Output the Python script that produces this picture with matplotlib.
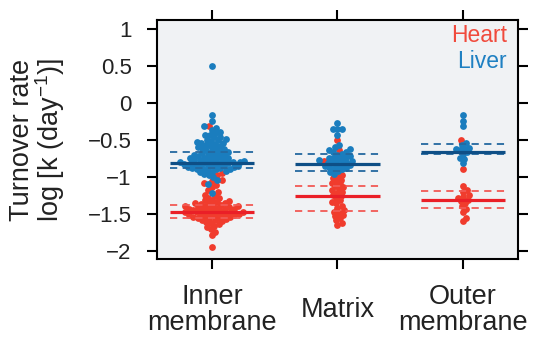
import numpy as np
import matplotlib
matplotlib.use('Agg')  # no display here
import matplotlib.pyplot as plt

plt.rcParams['font.family'] = ['Liberation Sans', 'DejaVu Sans']
plt.rcParams['mathtext.fontset'] = 'custom'
plt.rcParams['mathtext.rm'] = 'Liberation Sans'

# compartments along x
categories = ['Inner\nmembrane', 'Matrix', 'Outer\nmembrane']

# log10 turnover rates, one value per protein
inner_heart = [-0.32, -0.95, -0.97, -1.04, -1.06, -1.08, -1.11, -1.14, -1.18, -1.21,
               -1.24, -1.26, -1.28, -1.29, -1.31, -1.32, -1.33, -1.34, -1.35, -1.36,
               -1.36, -1.37, -1.38, -1.38, -1.39, -1.40, -1.40, -1.41, -1.41, -1.42,
               -1.42, -1.43, -1.43, -1.44, -1.44, -1.45, -1.45, -1.46, -1.46, -1.47,
               -1.47, -1.48, -1.48, -1.49, -1.49, -1.50, -1.50, -1.51, -1.51, -1.52,
               -1.52, -1.53, -1.53, -1.54, -1.54, -1.55, -1.56, -1.56, -1.57, -1.58,
               -1.59, -1.60, -1.61, -1.62, -1.64, -1.66, -1.68, -1.71, -1.74, -1.78,
               -1.95]
inner_liver = [0.49, -0.16, -0.25, -0.31, -0.34, -0.37, -0.39, -0.41, -0.43, -0.44,
               -0.46, -0.47, -0.49, -0.50, -0.51, -0.52, -0.53, -0.54, -0.55, -0.56,
               -0.57, -0.58, -0.59, -0.60, -0.61, -0.62, -0.63, -0.64, -0.65, -0.66,
               -0.67, -0.68, -0.69, -0.70, -0.70, -0.71, -0.72, -0.72, -0.73, -0.74,
               -0.75, -0.75, -0.76, -0.77, -0.77, -0.78, -0.78, -0.79, -0.79, -0.80,
               -0.80, -0.80, -0.81, -0.81, -0.82, -0.82, -0.83, -0.83, -0.83, -0.84,
               -0.85, -0.85, -0.86, -0.86, -0.87, -0.87, -0.88, -0.88, -0.89, -0.89,
               -0.90, -0.90, -0.91, -0.92, -0.93, -0.94, -0.96, -0.98, -1.00, -1.05,
               -1.10, -1.22]
matrix_heart = [-0.50, -0.64, -0.79, -0.97, -1.00, -1.02, -1.04, -1.06, -1.08, -1.10,
                -1.12, -1.14, -1.16, -1.18, -1.20, -1.22, -1.24, -1.26, -1.29, -1.32,
                -1.34, -1.36, -1.39, -1.42, -1.45, -1.47, -1.49, -1.51, -1.53, -1.56,
                -1.59, -1.62, -1.65]
matrix_liver = [-0.27, -0.35, -0.35, -0.35, -0.43, -0.57, -0.60, -0.62, -0.64, -0.66,
                -0.67, -0.69, -0.70, -0.72, -0.73, -0.74, -0.75, -0.76, -0.77, -0.78,
                -0.79, -0.80, -0.81, -0.82, -0.83, -0.84, -0.85, -0.86, -0.87, -0.88,
                -0.89, -0.90, -0.92, -0.94, -0.96]
outer_heart = [-0.51, -0.90, -1.13, -1.18, -1.20, -1.25, -1.27, -1.29, -1.31, -1.33,
               -1.36, -1.40, -1.43, -1.48, -1.55, -1.60]
outer_liver = [-0.17, -0.245, -0.32, -0.55, -0.57, -0.61, -0.62, -0.63, -0.64, -0.67,
               -0.69, -0.74, -0.76, -0.82]

heart_sets = [inner_heart, matrix_heart, outer_heart]
liver_sets = [inner_liver, matrix_liver, outer_liver]

# centre line and dashed band per compartment
heart_mid = [-1.475, -1.255, -1.313]
heart_hi = [-1.376, -1.120, -1.196]
heart_lo = [-1.552, -1.457, -1.417]
liver_mid = [-0.810, -0.827, -0.665]
liver_hi = [-0.670, -0.696, -0.564]
liver_lo = [-0.885, -0.922, -0.690]

red = '#f03c2d'
blue = '#1a7dbe'
red_line = '#ea1f27'
blue_line = '#0e4f86'
red_dash = '#f25a55'
blue_dash = '#24689f'
text_col = '#222222'


def swarm(values, d, sx, sy):
    """x offsets (data units) so no two dots sit closer than d pixels."""
    values = np.asarray(values, dtype=float)
    order = np.argsort(values, kind='stable')
    xs = np.zeros(len(values))
    placed = []
    for idx in order:
        y = values[idx] * sy
        near = [(px, py) for px, py in placed if abs(py - y) < d]
        cands = [0.0]
        for px, py in near:
            dx = np.sqrt(d * d - (py - y) ** 2)
            cands += [px + dx, px - dx]
        cands.sort(key=abs)
        for c in cands:
            if all((c - px) ** 2 + (y - py) ** 2 >= d * d - 1e-6 for px, py in near):
                break
        placed.append((c, y))
        xs[idx] = c
    return xs / sx


fig = plt.figure(figsize=(5.34, 3.39), dpi=100)
ax = fig.add_axes([0.294, 0.236, 0.676, 0.705])
ax.set_facecolor('#f0f2f4')
ax.set_xlim(-0.438, 2.438)
ax.set_ylim(-2.11, 1.116)

# pixels per data unit
p0 = ax.transData.transform((0, 0))
p1 = ax.transData.transform((1, 1))
sx, sy = p1[0] - p0[0], p1[1] - p0[1]

half = 0.335
for i in range(3):
    h = heart_sets[i]
    l = liver_sets[i]
    offs = swarm(h + l, 4.6, sx, sy)
    ax.scatter(i + offs[:len(h)], h, s=24, color=red, linewidths=0, zorder=2)
    ax.scatter(i + offs[len(h):], l, s=24, color=blue, linewidths=0, zorder=2)

    ax.hlines([heart_hi[i], heart_lo[i]], i - half, i + half, color=red_dash,
              lw=1.3, linestyles=(0, (4, 3)), zorder=3)
    ax.hlines([liver_hi[i], liver_lo[i]], i - half, i + half, color=blue_dash,
              lw=1.3, linestyles=(0, (4, 3)), zorder=3)
    ax.hlines(heart_mid[i], i - half, i + half, color=red_line, lw=2.3, zorder=4)
    ax.hlines(liver_mid[i], i - half, i + half, color=blue_line, lw=2.3, zorder=4)

yt = [1, 0.5, 0, -0.5, -1, -1.5, -2]
ax.set_yticks(yt, ['1', '0.5', '0', '\u22120.5', '\u22121', '\u22121.5', '\u22122'])
ax.set_xticks([0, 1, 2], categories)
for lab in ax.get_xticklabels():
    lab.set_va('center')
    lab.set_linespacing(1.0)

ax.tick_params(direction='out', length=7.2, width=1.5, top=True, right=True,
               colors='black', labelcolor=text_col)
ax.tick_params(axis='y', labelsize=16, pad=11)
ax.tick_params(axis='x', labelsize=19.5, pad=29.5)
for sp in ax.spines.values():
    sp.set_linewidth(1.5)

ax.set_ylabel('Turnover rate\nlog [k (day$^{\\mathregular{-1}}$)]', fontsize=19.5,
              color=text_col, linespacing=0.95, va='center')
ax.yaxis.set_label_coords(-0.33, 0.5)

ax.text(0.9695, 0.909, 'Heart', transform=ax.transAxes, ha='right', va='baseline',
        color='#f04a3c', fontsize=16.5)
ax.text(0.9695, 0.799, 'Liver', transform=ax.transAxes, ha='right', va='baseline',
        color='#1f80c2', fontsize=16.5)

fig.savefig('out.png', dpi=100)
